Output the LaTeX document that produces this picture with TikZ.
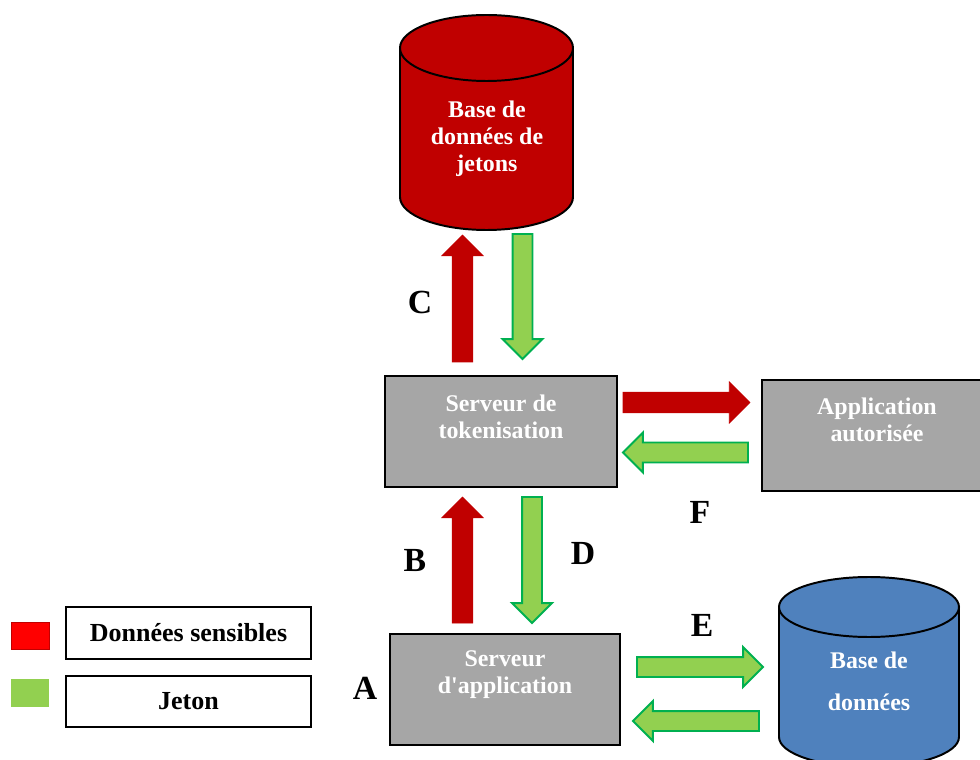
\documentclass[tikz,border=0pt]{standalone}
\usepackage{fontspec}
\setmainfont{Liberation Serif}
\usetikzlibrary{shapes.arrows}

\definecolor{jetred}{HTML}{C00000}
\definecolor{legred}{HTML}{FF0000}
\definecolor{jetgreen}{HTML}{92D050}
\definecolor{jetgreenb}{HTML}{00B050}
\definecolor{srvgray}{HTML}{A6A6A6}
\definecolor{dbblue}{HTML}{4F81BD}

\newcommand*{\pu}{0.7113pt}

\tikzset{
  srvbox/.style={draw=black, line width=1.8pt, fill=srvgray, inner sep=0pt},
  srvtext/.style={text=white, align=center, font=\fontsize{17}{19.2}\selectfont\bfseries},
  flowlabel/.style={font=\fontsize{24}{26}\selectfont\bfseries},
  legbox/.style={draw=black, line width=1.2pt, inner sep=0pt, minimum width=245*\pu,
    font=\fontsize{18.5}{20}\selectfont\bfseries},
  blockarrow/.style={single arrow, anchor=tail, inner xsep=0pt, inner ysep=10*\pu, outer sep=0pt,
    single arrow head extend=10.5*\pu, minimum height=126*\pu},
  redarrow/.style={blockarrow, fill=jetred, draw=jetred, line width=0.4pt},
  greenarrow/.style={blockarrow, fill=jetgreen, draw=jetgreenb, line width=1.4pt,
    inner ysep=9*\pu, single arrow head extend=10*\pu},
}

\begin{document}
\begin{tikzpicture}[x=0.025cm,y=-0.025cm]
  \useasboundingbox (0,0) rectangle (980,760);

  % base de donnees de jetons
  \draw[line width=1.4pt, fill=jetred] (400,48) -- (400,197)
    arc[start angle=180, end angle=0, x radius=86.5, y radius=33] -- (573,48);
  \draw[line width=1.4pt, fill=jetred] (486.5,48) ellipse[x radius=86.5, y radius=33];
  \node[srvtext] (tokdb) at (487,139) {Base de\\données de\\jetons};

  % base de donnees
  \draw[line width=1.4pt, fill=dbblue] (779,607) -- (779,737)
    arc[start angle=180, end angle=0, x radius=90, y radius=30] -- (959,607);
  \draw[line width=1.4pt, fill=dbblue] (869,607) ellipse[x radius=90, y radius=30];
  \node[srvtext] (db) at (869,681) {Base de\\[15*\pu]données};

  % serveurs
  \node[srvbox, minimum width=232*\pu, minimum height=111*\pu] (tokserv) at (501,431.5) {};
  \node[srvtext] (tokserv-txt) at (501,417) {Serveur de\\tokenisation};
  \node[srvbox, minimum width=223*\pu, minimum height=111*\pu] (appauth) at (873.5,435.5) {};
  \node[srvtext] (appauth-txt) at (877,420) {Application\\autorisée};
  \node[srvbox, minimum width=230*\pu, minimum height=111*\pu] (appserv) at (505,689.5) {};
  \node[srvtext] (appserv-txt) at (505,675) {Serveur\\d\textquotesingle application};

  % fleches
  \node[redarrow, rotate=90, minimum height=127*\pu] (c-up) at (462.5,362) {};
  \node[greenarrow, rotate=-90, minimum height=125*\pu] (c-down) at (522.5,234) {};
  \node[redarrow, rotate=0, minimum height=127*\pu] (f-right) at (623,402.5) {};
  \node[greenarrow, rotate=180, minimum height=125*\pu] (f-left) at (748,452.5) {};
  \node[redarrow, rotate=90] (b-up) at (462.5,623) {};
  \node[greenarrow, rotate=-90] (d-down) at (532,497) {};
  \node[greenarrow, rotate=0] (e-right) at (637,667) {};
  \node[greenarrow, rotate=180] (e-left) at (759,721) {};

  % etiquettes
  \node[flowlabel] (lab-a) at (365,688) {A};
  \node[flowlabel] (lab-b) at (415,560) {B};
  \node[flowlabel] (lab-c) at (420,302) {C};
  \node[flowlabel] (lab-d) at (583,553) {D};
  \node[flowlabel] (lab-e) at (702,625) {E};
  \node[flowlabel] (lab-f) at (700,512) {F};

  % legende
  \node[draw=jetred, fill=legred, line width=0.6pt, minimum width=38*\pu, minimum height=27*\pu] (leg-red) at (30,635.5) {};
  \node[fill=jetgreen, minimum width=38*\pu, minimum height=28*\pu] (leg-green) at (30,693) {};
  \node[legbox, minimum height=52*\pu] (leg-sens) at (188.5,633) {Données sensibles};
  \node[legbox, minimum height=51*\pu] (leg-jeton) at (188.5,701.5) {Jeton};
\end{tikzpicture}
\end{document}
